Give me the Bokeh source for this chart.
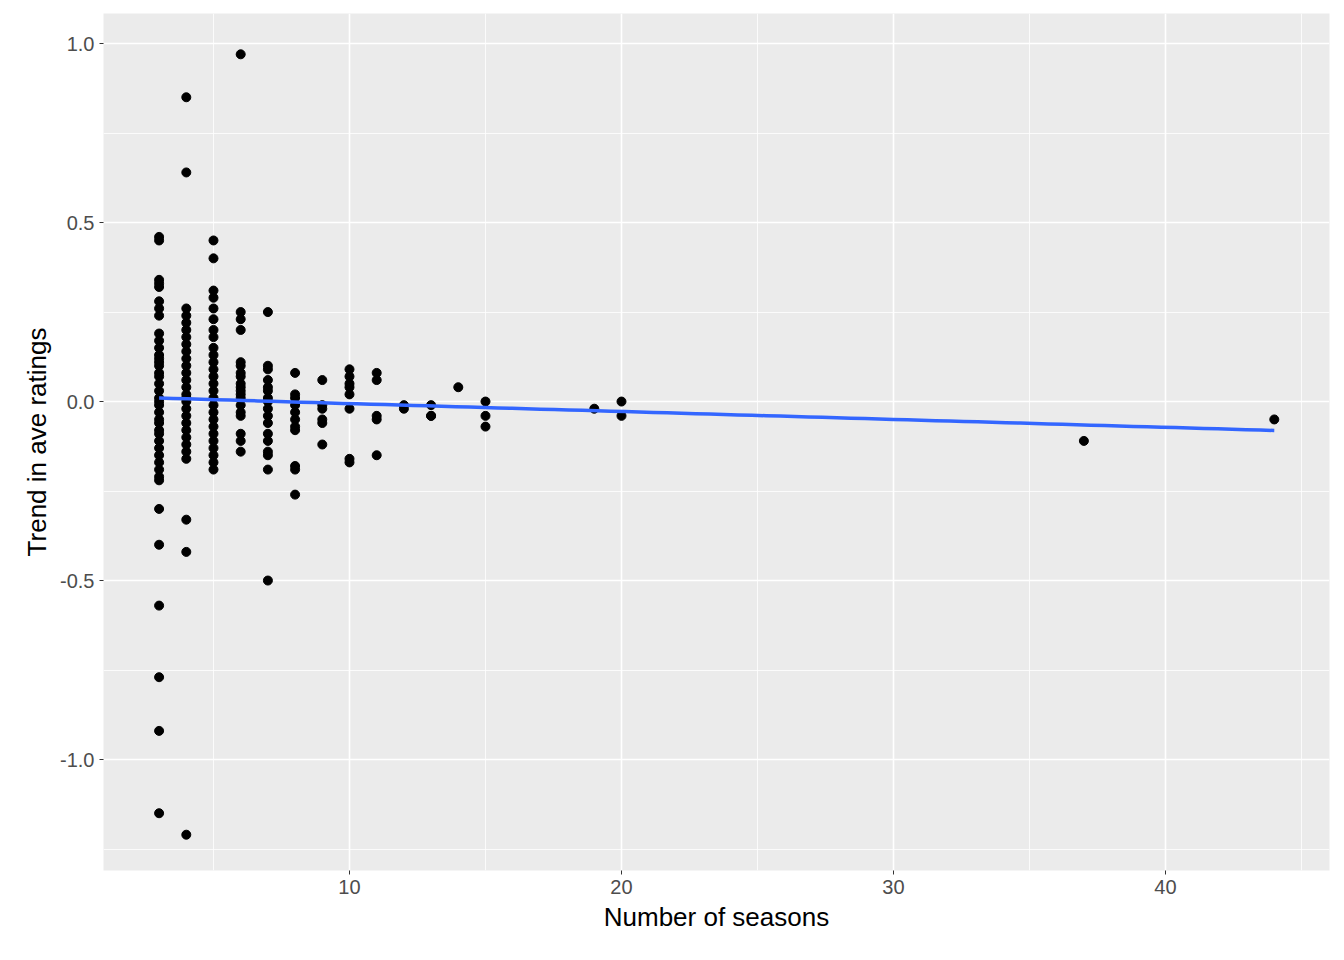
import numpy as np
from bokeh.plotting import figure
from bokeh.models import ColumnDataSource, FixedTicker, PrintfTickFormatter
from bokeh.embed import file_html
from bokeh.resources import INLINE

# Trend in average ratings per show vs. number of seasons
ratings = {
    3: [0.46, 0.45, 0.34, 0.33, 0.32, 0.28, 0.26, 0.24, 0.19, 0.17, 0.15, 0.13, 0.12, 0.11,
        0.10, 0.08, 0.07, 0.05, 0.03, 0.01, 0.0, -0.01, -0.03, -0.05, -0.06, -0.08, -0.09,
        -0.11, -0.13, -0.15, -0.17, -0.19, -0.21, -0.22, -0.30, -0.40, -0.57, -0.77, -0.92, -1.15],
    4: [0.85, 0.64, 0.26, 0.24, 0.22, 0.20, 0.18, 0.16, 0.14, 0.12, 0.10, 0.08, 0.06, 0.04,
        0.02, 0.01, 0.0, -0.02, -0.04, -0.06, -0.08, -0.10, -0.12, -0.14, -0.16, -0.33, -0.42, -1.21],
    5: [0.45, 0.40, 0.31, 0.29, 0.26, 0.23, 0.20, 0.18, 0.15, 0.13, 0.11, 0.09, 0.07, 0.05,
        0.03, 0.01, -0.01, -0.03, -0.05, -0.07, -0.09, -0.11, -0.13, -0.15, -0.17, -0.19],
    6: [0.97, 0.25, 0.23, 0.20, 0.11, 0.10, 0.08, 0.07, 0.05, 0.04, 0.03, 0.02, 0.01, -0.01,
        -0.03, -0.04, -0.09, -0.11, -0.14],
    7: [0.25, 0.10, 0.09, 0.06, 0.04, 0.03, 0.01, 0.0, -0.02, -0.04, -0.06, -0.09, -0.11,
        -0.14, -0.15, -0.19, -0.50],
    8: [0.08, 0.02, 0.01, -0.01, -0.03, -0.05, -0.07, -0.08, -0.18, -0.19, -0.26],
    9: [0.06, -0.01, -0.02, -0.05, -0.06, -0.12],
    10: [0.09, 0.07, 0.05, 0.04, 0.02, -0.02, -0.16, -0.17],
    11: [0.08, 0.06, -0.04, -0.05, -0.15],
    12: [-0.01, -0.02],
    13: [-0.01, -0.04, -0.04],
    14: [0.04],
    15: [0.0, -0.04, -0.07],
    19: [-0.02],
    20: [0.0, -0.04],
    37: [-0.11],
    44: [-0.05],
}

seasons = [s for s, vals in ratings.items() for _ in vals]
trend = [v for vals in ratings.values() for v in vals]

# linear fit, like geom_smooth(method = "lm")
x = np.array(seasons, dtype=float)
y = np.array(trend)
slope, intercept = np.polyfit(x, y, 1)
fit_x = np.linspace(x.min(), x.max(), 80)
fit_y = slope * fit_x + intercept

p = figure(width=1336, height=952, x_range=(0.956, 46.03), y_range=(-1.31, 1.084),
           output_backend="svg", toolbar_location=None,
           min_border_left=103, min_border_top=13, min_border_right=7, min_border_bottom=82)

p.background_fill_color = "#EBEBEB"
p.outline_line_color = None
p.border_fill_color = "white"

p.xaxis.ticker = FixedTicker(ticks=[10, 20, 30, 40], minor_ticks=[5, 15, 25, 35, 45])
p.yaxis.ticker = FixedTicker(ticks=[-1.0, -0.5, 0.0, 0.5, 1.0],
                             minor_ticks=[-1.25, -0.75, -0.25, 0.25, 0.75])
p.yaxis.formatter = PrintfTickFormatter(format="%.1f")

for g in (p.xgrid, p.ygrid):
    g.grid_line_color = "white"
    g.grid_line_width = 1.6
    g.minor_grid_line_color = "white"
    g.minor_grid_line_width = 0.8

for ax in (p.xaxis, p.yaxis):
    ax.axis_line_color = None
    ax.major_tick_line_color = "#333333"
    ax.major_tick_in = 0
    ax.major_tick_out = 4
    ax.minor_tick_line_color = None
    ax.major_label_text_color = "#4D4D4D"
    ax.major_label_text_font = "Liberation Sans"
    ax.major_label_text_font_size = "20px"
    ax.axis_label_text_font = "Liberation Sans"
    ax.axis_label_text_font_size = "26px"
    ax.axis_label_text_font_style = "normal"
    ax.axis_label_text_color = "black"

p.xaxis.axis_label = "Number of seasons"
p.yaxis.axis_label = "Trend in ave ratings"

src = ColumnDataSource(dict(seasons=seasons, trend=trend))
p.scatter("seasons", "trend", source=src, size=9, color="black")
p.line(fit_x, fit_y, line_color="#3366FF", line_width=3.5)

open("out.html", "w").write(file_html(p, INLINE))
